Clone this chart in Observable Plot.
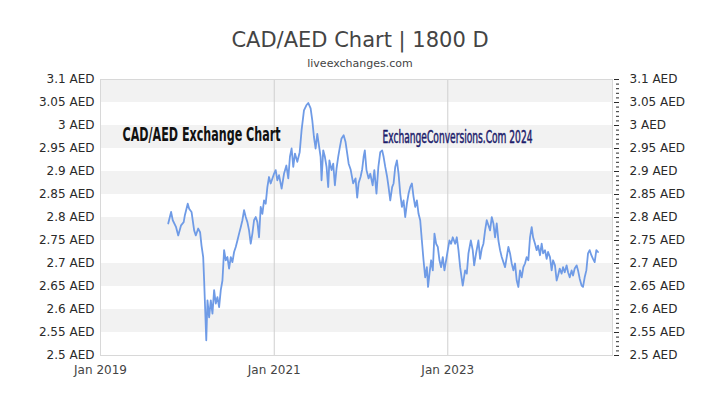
<!DOCTYPE html>
<html>
<head>
<meta charset="utf-8">
<script src="https://cdn.jsdelivr.net/npm/d3@7"></script>
<script src="https://cdn.jsdelivr.net/npm/@observablehq/plot@0.6"></script>
<style>
  html, body { margin: 0; padding: 0; background: #fff; }
  #wrap { position: relative; width: 720px; height: 405px; overflow: hidden; font-family: "DejaVu Sans", sans-serif; }
  #title { position: absolute; left: 0; top: 28px; width: 720px; text-align: center; font-size: 21px; line-height: 24px; color: #444; }
  #sub { position: absolute; left: 0; top: 57px; width: 720px; text-align: center; font-size: 11px; line-height: 14px; color: #444; }
  #chart { position: absolute; left: 0; top: 0; }
</style>
</head>
<body>
<div id="wrap">
  <div id="chart"></div>
  <div id="title">CAD/AED Chart | 1800 D</div>
  <div id="sub">liveexchanges.com</div>
</div>
<script>
// ---- data ----
const startDate = "2019-01-01";
const xDomainEnd = "2024-11-24";
// days since startDate for each observation
const days = [285,297,304,318,327,339,350,355,367,373,383,394,401,411,419,425,432,436,440,445,
450,457,464,471,478,485,492,499,506,513,520,527,534,541,548,555,562,569,576,583,
590,597,604,611,618,625,632,639,646,653,660,667,674,681,688,695,702,709,716,730,
737,744,751,762,772,782,790,797,804,811,818,828,838,846,856,866,874,884,891,898,
905,912,919,926,930,937,944,951,958,963,972,979,986,993,1000,1007,1014,1023,1031,1038,
1044,1052,1063,1073,1080,1086,1094,1101,1107,1112,1119,1128,1135,1145,1152,1161,1169,1177,1185,1191,
1198,1206,1212,1219,1227,1233,1240,1247,1254,1261,1268,1275,1282,1289,1296,1303,1310,1317,1324,1331,
1338,1345,1352,1359,1366,1373,1378,1384,1391,1398,1405,1412,1419,1426,1433,1440,1447,1454,1461,1468,
1475,1482,1492,1499,1506,1513,1524,1534,1541,1548,1558,1566,1572,1580,1590,1597,1604,1611,1618,1625,
1632,1639,1646,1653,1660,1667,1674,1681,1688,1695,1702,1709,1716,1723,1730,1737,1744,1751,1758,1765,
1772,1779,1786,1793,1800,1807,1814,1820,1828,1835,1841,1849,1856,1862,1870,1877,1883,1891,1898,1904,
1912,1919,1925,1932,1940,1946,1953,1961,1967,1974,1982,1988,1995,2003,2009,2016,2024,2030,2037,2044,
2051,2058,2065,2072,2079,2086,2093];
const rates = [2.787,2.812,2.794,2.779,2.761,2.783,2.790,2.805,2.830,2.819,2.812,2.772,2.761,2.776,2.768,2.739,2.714,2.663,2.605,2.533,
2.620,2.583,2.620,2.591,2.642,2.613,2.627,2.605,2.642,2.663,2.729,2.707,2.714,2.689,2.714,2.703,2.725,2.736,2.750,2.765,
2.779,2.794,2.816,2.801,2.790,2.772,2.743,2.765,2.794,2.801,2.790,2.757,2.823,2.808,2.837,2.830,2.866,2.888,2.874,2.895,
2.903,2.881,2.892,2.863,2.895,2.913,2.885,2.932,2.950,2.910,2.939,2.921,2.942,2.990,3.033,3.044,3.049,3.037,3.011,2.975,
2.950,2.982,2.957,2.932,2.881,2.946,2.932,2.910,2.866,2.924,2.903,2.917,2.870,2.906,2.932,2.953,2.972,2.979,2.964,2.939,
2.917,2.905,2.874,2.885,2.843,2.875,2.888,2.905,2.932,2.946,2.903,2.885,2.895,2.870,2.903,2.852,2.910,2.942,2.946,2.932,
2.910,2.888,2.866,2.837,2.866,2.874,2.910,2.924,2.895,2.852,2.823,2.837,2.801,2.830,2.852,2.866,2.874,2.845,2.823,2.837,
2.808,2.794,2.750,2.707,2.670,2.692,2.649,2.678,2.707,2.685,2.765,2.743,2.736,2.707,2.692,2.714,2.685,2.707,2.729,2.750,
2.743,2.757,2.743,2.757,2.729,2.692,2.652,2.685,2.678,2.722,2.750,2.729,2.696,2.722,2.750,2.710,2.732,2.743,2.772,2.794,
2.783,2.772,2.801,2.787,2.757,2.787,2.750,2.729,2.714,2.703,2.692,2.714,2.736,2.722,2.700,2.685,2.700,2.663,2.649,2.685,
2.670,2.692,2.700,2.714,2.707,2.757,2.779,2.757,2.743,2.729,2.739,2.718,2.743,2.722,2.729,2.710,2.725,2.714,2.685,2.707,
2.696,2.663,2.674,2.689,2.678,2.692,2.681,2.696,2.681,2.670,2.685,2.674,2.689,2.696,2.685,2.667,2.652,2.649,2.670,2.685,
2.722,2.729,2.718,2.710,2.703,2.729,2.725];
const yTicks = [2.5, 2.55, 2.6, 2.65, 2.7, 2.75, 2.8, 2.85, 2.9, 2.95, 3, 3.05, 3.1];
const bandLows = [2.55, 2.65, 2.75, 2.85, 2.95, 3.05];
const xTicks = ["2019-01-01", "2021-01-01", "2023-01-01"];
const gridDates = ["2021-01-01", "2023-01-01"];
const overlayLeft = ["CAD/AED Exchange Chart"];
const overlayRight = ["ExchangeConversions.Com 2024"];

// ---- build table ----
const t0 = new Date(startDate + "T00:00:00Z");
const data = days.map((d, i) => ({date: d3.utcDay.offset(t0, d), rate: rates[i]}));
const minorTicks = d3.range(250, 311).map(v => v / 100);

const chart = Plot.plot({
  width: 720,
  height: 405,
  marginLeft: 100,
  marginRight: 108,
  marginTop: 79,
  marginBottom: 50,
  style: {fontFamily: "DejaVu Sans, sans-serif", fontSize: "12px", color: "#2a2a2a", background: "#fff", overflow: "visible"},
  x: {type: "utc", domain: [t0, new Date(xDomainEnd + "T00:00:00Z")]},
  y: {domain: [2.5, 3.1]},
  marks: [
    Plot.rect(bandLows, {y1: d => d, y2: d => d + 0.05, fill: "#f2f2f2"}),
    Plot.ruleX(gridDates.map(s => new Date(s + "T00:00:00Z")), {stroke: "#cfcfcf", strokeWidth: 1}),
    Plot.frame({stroke: "#d8d8d8"}),
    Plot.line(data, {x: "date", y: "rate", stroke: "#6f9be6", strokeWidth: 1.8}),
    Plot.axisX({ticks: xTicks.map(s => new Date(s + "T00:00:00Z")), tickFormat: d3.utcFormat("%b %Y"), tickSize: 0, tickPadding: 10, label: null, fill: "#444"}),
    Plot.axisY({anchor: "left", ticks: yTicks, tickFormat: d => `${d} AED`, tickSize: 0, tickPadding: 6, label: null}),
    Plot.axisY({anchor: "right", ticks: yTicks, tickFormat: d => `${d} AED`, tickSize: 5, tickPadding: 11, label: null, dx: 1}),
    Plot.axisY({anchor: "right", ticks: minorTicks, tickFormat: () => "", tickSize: 3, label: null, dx: 3}),
    Plot.text(overlayLeft, {frameAnchor: "top-left", dx: 22, dy: 61, textAnchor: "start", lineAnchor: "bottom",
      fontFamily: "Liberation Sans Narrow, DejaVu Sans Condensed, Arial Narrow, sans-serif", fontWeight: "bold", fontSize: 20, fill: "#111"}),
    Plot.text(overlayRight, {frameAnchor: "top-left", dx: 282, dy: 63, textAnchor: "start", lineAnchor: "bottom",
      fontFamily: "Liberation Sans Narrow, DejaVu Sans Condensed, Arial Narrow, sans-serif", fontWeight: "normal", fontSize: 17,
      fill: "#1d1d6b", stroke: "#1d1d6b", strokeWidth: 0.5, paintOrder: "normal"})
  ]
});

const root = d3.select(chart);
root.selectAll("text").filter(function() { return this.textContent === ""; }).remove();
root.selectAll("text").filter(function() { return this.textContent === overlayLeft[0]; })
  .attr("textLength", 158).attr("lengthAdjust", "spacingAndGlyphs");
root.selectAll("text").filter(function() { return this.textContent === overlayRight[0]; })
  .attr("textLength", 150).attr("lengthAdjust", "spacingAndGlyphs");
document.getElementById("chart").appendChild(chart);
</script>
</body>
</html>
